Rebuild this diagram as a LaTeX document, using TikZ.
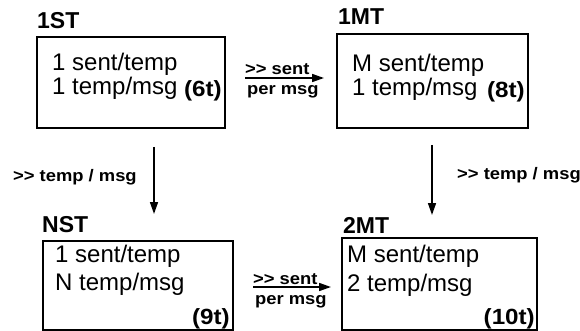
\documentclass[tikz,border=0pt]{standalone}
\usepackage{fontspec}
\setmainfont{Liberation Sans}
\newfontfamily\lblfont[FakeStretch=1.1]{Liberation Sans}
\newfontfamily\cntfont[FakeStretch=1.1]{Liberation Sans}
\usetikzlibrary{arrows.meta}
\tikzset{
  box/.style={draw, line width=1.6pt},
  txt/.style={anchor=base west, inner sep=0pt, font=\fontsize{24}{24}\selectfont},
  ttl/.style={anchor=base west, inner sep=0pt, font=\fontsize{23}{23}\selectfont\bfseries},
  cnt/.style={anchor=base east, inner sep=0pt, font=\cntfont\fontsize{22}{22}\selectfont\bfseries},
  lbl/.style={anchor=base west, inner sep=0pt, font=\lblfont\fontsize{16.7}{16.7}\selectfont\bfseries},
  arr/.style={line width=1.6pt, -{Triangle[length=12pt,width=8pt]}}
}
\begin{document}
\begin{tikzpicture}[x=1pt,y=-1pt]
\useasboundingbox (0,0) rectangle (580,331);
% 1ST
\node[ttl] (t1) at (37,29) {1ST};
\draw[box] (37,37) rectangle (225,128);
\node[txt] (a1) at (52,71) {1 sent/temp};
\node[txt] (a2) at (52,95) {1 temp/msg};
\node[cnt] (a3) at (222,97) {(6t)};
% 1MT
\node[ttl] (t2) at (338,25) {1MT};
\draw[box] (337,34) rectangle (528,128);
\node[txt] (b1) at (352,72) {M sent/temp};
\node[txt] (b2) at (352,96) {1 temp/msg};
\node[cnt] (b3) at (525,98) {(8t)};
% NST
\node[ttl] (t3) at (42,232) {NST};
\draw[box] (43,241) rectangle (233,330);
\node[txt] (c1) at (55,262) {1 sent/temp};
\node[txt] (c2) at (55,290) {N temp/msg};
\node[cnt] (c3) at (230,324) {(9t)};
% 2MT
\node[ttl] (t4) at (343,233) {2MT};
\draw[box] (342,238) rectangle (537,330);
\node[txt] (d1) at (347,262) {M sent/temp};
\node[txt] (d2) at (347,291) {2 temp/msg};
\node[cnt] (d3) at (535,324) {(10t)};
% arrows
\coordinate (h1s) at (245,78); \coordinate (h1e) at (324,78);
\coordinate (h2s) at (253,287); \coordinate (h2e) at (331,287);
\coordinate (v1s) at (154,147); \coordinate (v1e) at (154,214);
\coordinate (v2s) at (432,145); \coordinate (v2e) at (432,215);
\draw[arr] (h1s) -- (h1e);
\draw[arr] (h2s) -- (h2e);
\draw[arr] (v1s) -- (v1e);
\draw[arr] (v2s) -- (v2e);
% labels
\node[lbl] (l1) at (245,75) {>> sent};
\node[lbl] (l2) at (247,95) {per msg};
\node[lbl] (l3) at (253,284) {>> sent};
\node[lbl] (l4) at (255,304) {per msg};
\node[lbl] (l5) at (13,181) {>> temp / msg};
\node[lbl] (l6) at (457,179) {>> temp / msg};
\end{tikzpicture}
\end{document}
